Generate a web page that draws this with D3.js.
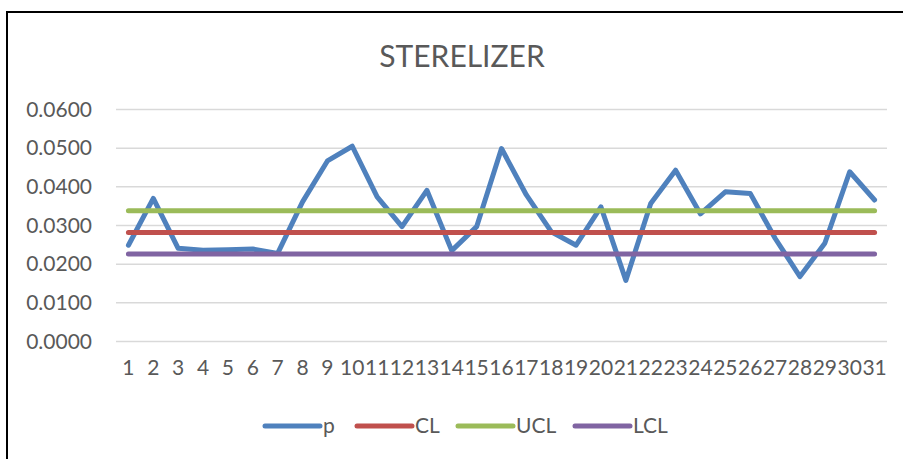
<!DOCTYPE html>
<html>
  <head>
    <title>STERELIZER</title>
    <script src="https://d3js.org/d3.v7.min.js"></script>
    <style>
      html, body {
        margin:0;
        padding:0;
        background:#fff;
      }
      svg text {
        font-family: Lato, "Open Sans", sans-serif;
        fill:#595959;
      }
    </style>
  </head>
  <body>
    <svg id="chart" width="903" height="459"></svg>
    <script>
      // values
      var samples = d3.range(1, 32);
      var pValues = [0.0249, 0.0370, 0.0241, 0.0236, 0.0237, 0.0239, 0.0228, 0.0361, 0.0467, 0.0505,
                     0.0374, 0.0297, 0.0391, 0.0235, 0.0297, 0.0499, 0.0379, 0.0284, 0.0249, 0.0348,
                     0.0158, 0.0357, 0.0443, 0.0330, 0.0387, 0.0383, 0.0267, 0.0168, 0.0254, 0.0439,
                     0.0366];
      var clValue = 0.0282;
      var uclValue = 0.0338;
      var lclValue = 0.0226;
      var yTicks = [0, 0.01, 0.02, 0.03, 0.04, 0.05, 0.06];

      var series = [
        { name: "p", color: "#4f81bd", values: pValues },
        { name: "CL", color: "#c0504d", values: samples.map(() => clValue) },
        { name: "UCL", color: "#9bbb59", values: samples.map(() => uclValue) },
        { name: "LCL", color: "#8064a2", values: samples.map(() => lclValue) }
      ];

      var svg = d3.select("#chart");

      // chart frame (only top/left edges fall inside the picture)
      svg.append("rect")
        .attr("x", 7).attr("y", 12)
        .attr("width", 1000).attr("height", 1000)
        .attr("fill", "none")
        .attr("stroke", "#000")
        .attr("stroke-width", 2);

      svg.append("text")
        .attr("x", 462).attr("y", 67)
        .attr("text-anchor", "middle")
        .style("font-size", "30px")
        .text("STERELIZER");

      var x = d3.scaleBand().domain(samples).range([116, 887]);
      var y = d3.scaleLinear().domain([0, 0.06]).range([341.5, 109.5]);

      // gridlines
      svg.append("g")
        .selectAll("line")
        .data(yTicks)
        .join("line")
        .attr("x1", 116).attr("x2", 887)
        .attr("y1", d => y(d)).attr("y2", d => y(d))
        .attr("stroke", "#d9d9d9")
        .attr("stroke-width", 1.5);

      var yAxis = svg.append("g")
        .attr("transform", "translate(116,0)")
        .call(d3.axisLeft(y).tickValues(yTicks).tickFormat(d3.format(".4f")).tickSize(0).tickPadding(24));
      yAxis.select(".domain").remove();
      yAxis.selectAll("text").style("font-size", "21px").attr("fill", "#595959");

      var xAxis = svg.append("g")
        .attr("transform", "translate(0,341.5)")
        .call(d3.axisBottom(x).tickSize(0).tickPadding(19));
      xAxis.select(".domain").remove();
      xAxis.selectAll("text").style("font-size", "21px").attr("fill", "#595959");

      var line = d3.line()
        .x((d, i) => x(samples[i]) + x.bandwidth() / 2)
        .y(d => y(d));

      // draw control lines first, p on top of them as in the reference? p drawn first
      svg.append("g")
        .selectAll("path")
        .data(series)
        .join("path")
        .attr("d", d => line(d.values))
        .attr("fill", "none")
        .attr("stroke", d => d.color)
        .attr("stroke-width", 5)
        .attr("stroke-linejoin", "round")
        .attr("stroke-linecap", "round");

      // legend
      var legendX = [265, 357, 458, 575];
      var legend = svg.append("g")
        .selectAll("g")
        .data(series)
        .join("g")
        .attr("transform", (d, i) => "translate(" + legendX[i] + ",426)");
      legend.append("line")
        .attr("x1", 0).attr("x2", 55)
        .attr("stroke", d => d.color)
        .attr("stroke-width", 5)
        .attr("stroke-linecap", "round");
      legend.append("text")
        .attr("x", 58).attr("dy", "0.35em")
        .style("font-size", "21px")
        .text(d => d.name);
    </script>
  </body>
</html>
